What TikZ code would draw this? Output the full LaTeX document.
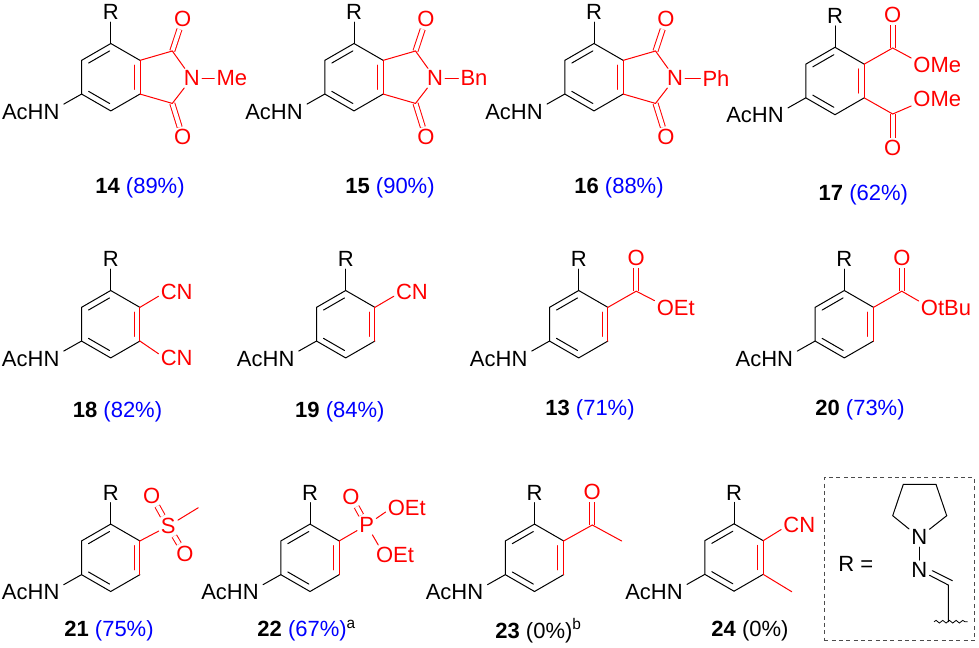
\documentclass[tikz,border=0pt]{standalone}
\usepackage{fontspec}
\setmainfont{Liberation Sans}
\usetikzlibrary{calc,decorations.pathmorphing}
\definecolor{subred}{RGB}{255,0,0}
\definecolor{yieldblue}{RGB}{0,0,255}
\newcommand{\molfont}{\fontsize{16.5}{18}\selectfont}
\newcommand{\yieldtxt}[2]{\textbf{#1} \textcolor{yieldblue}{(#2\%)}}
\tikzset{
  atom/.style={inner sep=1.5pt, font=\molfont},
  ratom/.style={atom, text=subred},
  cpd/.style={inner sep=0pt, font=\molfont},
  bond/.style={line width=0.75pt, line cap=round},
  rbond/.style={bond, draw=subred},
  rdbl/.style={line width=0.75pt, draw=subred, double=white, double distance=3pt}
}
\begin{document}
\begin{tikzpicture}[x=0.75pt,y=-0.75pt]
\useasboundingbox (0,0) rectangle (979,647);
\foreach \mol/\cx/\cy in {14/110.8/77.2,15/354/77.2,16/594/77.2,17/835/81,
  18/110.7/324.2,19/345.7/324.2,13/578.7/324.2,20/844.3/324.2,
  21/110.7/557.8,22/310/557.8,23/534.5/557.8,24/734/557.5}{
\begin{scope}[shift={(\cx,\cy)}]
\coordinate (m\mol o) at (0,0);
\coordinate (m\mol a) at (0,-33.7);
\coordinate (m\mol b) at (29.2,-16.85);
\coordinate (m\mol c) at (29.2,16.85);
\coordinate (m\mol d) at (0,33.7);
\coordinate (m\mol e) at (-29.2,16.85);
\coordinate (m\mol f) at (-29.2,-16.85);
\node[atom] (m\mol r) at (0,-65) {R};
\node[atom, inner xsep=3pt] (m\mol n) at (-80,34.5) {AcHN};
\draw[bond] (m\mol b)--(m\mol a)--(m\mol f)--(m\mol e)--(m\mol d)--(m\mol c);
\draw[rbond] (m\mol b)--(m\mol c);
\draw[bond] (m\mol r)--(m\mol a);
\draw[bond] (m\mol n.13)--(m\mol e);
\draw[bond, shorten <=1pt, shorten >=1pt] ($(m\mol o)!.8!(m\mol f)$)--($(m\mol o)!.8!(m\mol a)$);
\draw[bond, shorten <=1pt, shorten >=1pt] ($(m\mol o)!.8!(m\mol e)$)--($(m\mol o)!.8!(m\mol d)$);
\draw[rbond, shorten <=1pt, shorten >=1pt] ($(m\mol o)!.8!(m\mol b)$)--($(m\mol o)!.8!(m\mol c)$);
\end{scope}
}
\foreach \mol/\cx/\sub/\sx in {14/110.8/Me/121,15/354/Bn/120,16/594/Ph/122}{
\begin{scope}[shift={(\cx,77.2)}]
\coordinate (m\mol p) at (61.5,-26.2);
\coordinate (m\mol q) at (61.5,26.2);
\node[ratom] (m\mol s) at (72,-58) {O};
\node[ratom] (m\mol t) at (72,60) {O};
\node[ratom] (m\mol u) at (81,1) {N};
\node[ratom] (m\mol v) at (\sx,1) {\sub};
\draw[rdbl] (m\mol p)--(m\mol s);
\draw[rdbl] (m\mol q)--(m\mol t);
\draw[rbond] (m\mol b)--(m\mol p)--(m\mol u)--(m\mol q)--(m\mol c);
\draw[rbond] (m\mol u)--(m\mol v);
\end{scope}
}
\coordinate (m17p) at (892.7,48);
\coordinate (m17q) at (892.7,114);
\node[ratom] (m17s) at (892.7,15) {O};
\node[ratom] (m17t) at (892.7,148) {O};
\node[ratom] (m17u) at (937.3,65) {OMe};
\node[ratom] (m17v) at (937.3,99) {OMe};
\draw[rdbl] (m17p)--(m17s);
\draw[rdbl] (m17q)--(m17t);
\draw[rbond] (m17b)--(m17p)--(m17u.165);
\draw[rbond] (m17c)--(m17q)--(m17v.195);
\node[ratom] (m18u) at (176.7,291.7) {CN};
\node[ratom] (m18v) at (176.7,358.3) {CN};
\draw[rbond] (m18b)--(m18u.194);
\draw[rbond] (m18c)--(m18v.166);
\node[ratom] (m19u) at (412,291.7) {CN};
\draw[rbond] (m19b)--(m19u.194);
\coordinate (m13p) at (636.2,291.2);
\node[ratom] (m13s) at (636.2,258.3) {O};
\node[ratom] (m13u) at (675.7,308.3) {OEt};
\draw[rdbl] (m13p)--(m13s);
\draw[rbond] (m13b)--(m13p)--(m13u.160);
\coordinate (m20p) at (901.8,291.2);
\node[ratom] (m20s) at (901.8,258.3) {O};
\node[ratom] (m20u) at (946,308.3) {OtBu};
\draw[rdbl] (m20p)--(m20s);
\draw[rbond] (m20b)--(m20p)--(m20u.165);
\node[ratom] (m21p) at (168.3,526) {S};
\node[ratom] (m21s) at (151.7,496) {O};
\node[ratom] (m21t) at (185,554) {O};
\coordinate (m21u) at (198.3,507.7);
\draw[rdbl] (m21p)--(m21s);
\draw[rdbl] (m21p)--(m21t);
\draw[rbond] (m21b)--(m21p)--(m21u);
\node[ratom] (m22p) at (366.7,525) {P};
\node[ratom] (m22s) at (351,496.7) {O};
\node[ratom] (m22u) at (406.8,508.3) {OEt};
\node[ratom] (m22v) at (395,555) {OEt};
\draw[rdbl] (m22p)--(m22s);
\draw[rbond] (m22b)--(m22p)--(m22u.190);
\draw[rbond] (m22p)--(m22v.149);
\coordinate (m23p) at (592.3,525);
\node[ratom] (m23s) at (592.3,491.7) {O};
\coordinate (m23u) at (621.7,541);
\draw[rdbl] (m23p)--(m23s);
\draw[rbond] (m23b)--(m23p)--(m23u);
\node[ratom] (m24u) at (799.3,525) {CN};
\coordinate (m24v) at (791.7,591.7);
\draw[rbond] (m24b)--(m24u.194);
\draw[rbond] (m24c)--(m24v);
\node[cpd] (lbl14) at (140,188) {\yieldtxt{14}{89}};
\node[cpd] (lbl15) at (390,188) {\yieldtxt{15}{90}};
\node[cpd] (lbl16) at (619,188) {\yieldtxt{16}{88}};
\node[cpd] (lbl17) at (863.3,195) {\yieldtxt{17}{62}};
\node[cpd] (lbl18) at (117.5,411.5) {\yieldtxt{18}{82}};
\node[cpd] (lbl19) at (339.8,411.5) {\yieldtxt{19}{84}};
\node[cpd] (lbl13) at (590,410) {\yieldtxt{13}{71}};
\node[cpd] (lbl20) at (860,410) {\yieldtxt{20}{73}};
\node[cpd] (lbl21) at (109,630.7) {\yieldtxt{21}{75}};
\node[cpd] (lbl22) at (306.7,630.7) {\yieldtxt{22}{67}\textsuperscript{a}};
\node[cpd] (lbl23) at (538.5,630.7) {\textbf{23} (0\%)\textsuperscript{b}};
\node[cpd] (lbl24) at (750,630.7) {\textbf{24} (0\%)};
\node[draw=black!70, line width=0.9pt, dash pattern=on 3pt off 2.5pt, minimum width=112.5pt, minimum height=122.5pt, inner sep=0pt] (rbox) at (899.2,559.2) {};
\node[atom] (rlabel) at (855.7,564.3) {R =};
\node[atom] (rn1) at (919.3,537.3) {N};
\node[atom] (rn2) at (919.3,570) {N};
\coordinate (rc1) at (892.7,515.7);
\coordinate (rc2) at (903.3,484.3);
\coordinate (rc3) at (936,484.3);
\coordinate (rc4) at (946.7,515.7);
\coordinate (rc5) at (948.3,585);
\coordinate (rd1) at (932.3,570.7);
\coordinate (rd2) at (952.3,580.7);
\coordinate (rc6) at (948.3,621.7);
\coordinate (rw1) at (934,621.7);
\coordinate (rw2) at (967.7,621.7);
\draw[bond] (rn1)--(rc1)--(rc2)--(rc3)--(rc4)--(rn1);
\draw[bond] (rn1)--(rn2);
\draw[bond] (rn2)--(rc5)--(rc6);
\draw[bond] (rd1)--(rd2);
\draw[line width=0.6pt, decorate, decoration={snake, segment length=5pt, amplitude=1pt}] (rw1)--(rw2);
\end{tikzpicture}
\end{document}
